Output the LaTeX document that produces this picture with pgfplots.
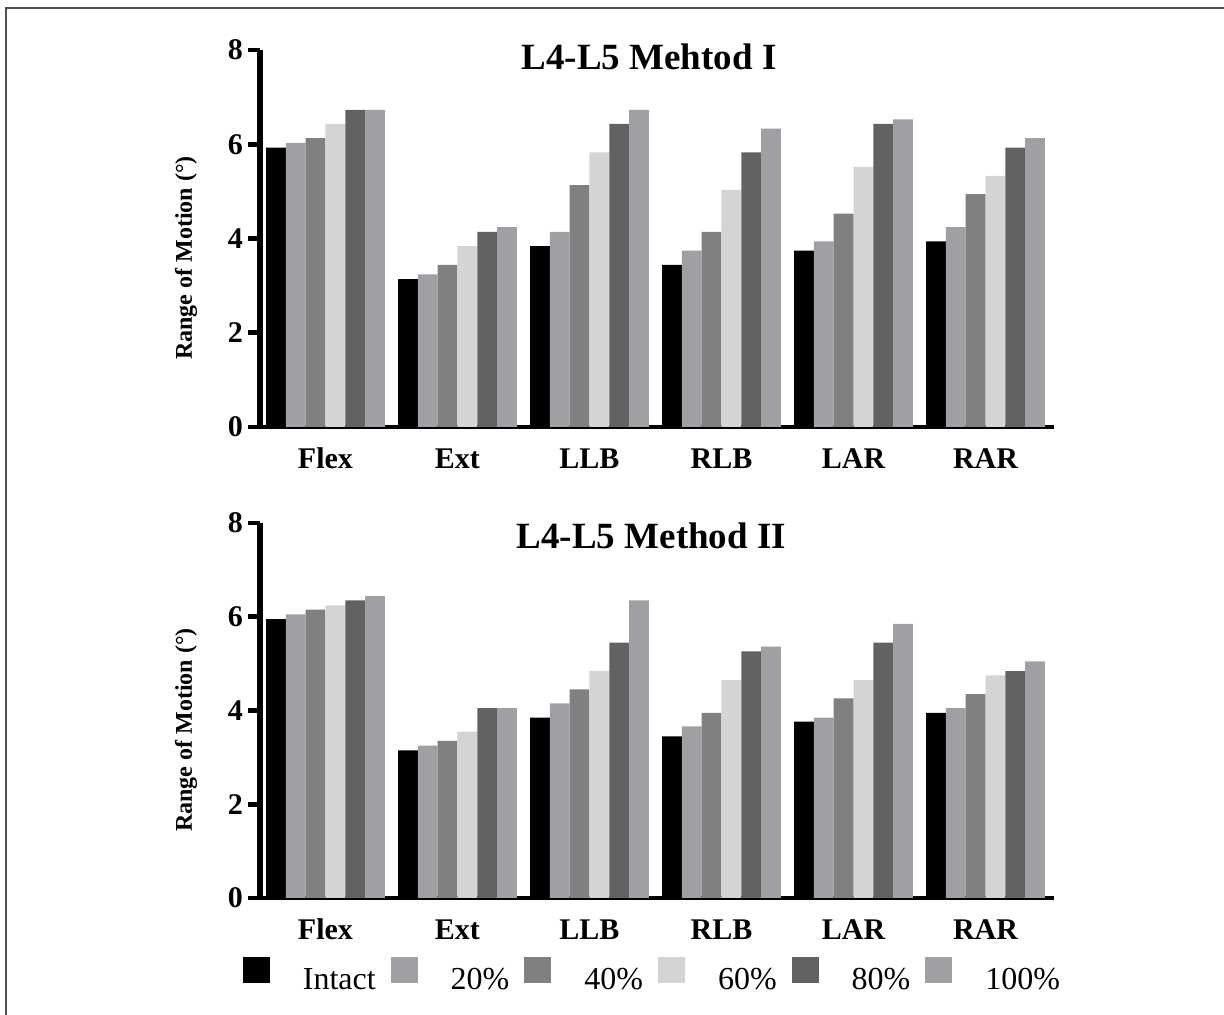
\documentclass[border=0pt]{standalone}
\usepackage{pgfplots}
\usepackage{pgfplotstable}
\pgfplotsset{compat=1.18}
\usepackage{fontspec}
\setmainfont{Liberation Serif}

\definecolor{cA}{RGB}{0,0,0}
\definecolor{cB}{RGB}{160,159,164}
\definecolor{cC}{RGB}{128,128,128}
\definecolor{cD}{RGB}{212,212,212}
\definecolor{cE}{RGB}{98,98,98}
\definecolor{cF}{RGB}{160,159,164}
\definecolor{frame}{RGB}{80,80,80}

\pgfplotstableread{
x a b c d e f
0 5.93 6.03 6.13 6.43 6.73 6.73
1 3.14 3.24 3.44 3.84 4.14 4.24
2 3.84 4.14 5.13 5.83 6.43 6.73
3 3.44 3.74 4.14 5.03 5.83 6.33
4 3.74 3.94 4.53 5.52 6.43 6.53
5 3.94 4.24 4.94 5.33 5.93 6.13
}\dataA

\pgfplotstableread{
x a b c d e f
0 5.95 6.05 6.15 6.24 6.35 6.44
1 3.15 3.25 3.35 3.55 4.05 4.05
2 3.85 4.15 4.45 4.84 5.45 6.35
3 3.45 3.66 3.95 4.65 5.26 5.36
4 3.76 3.85 4.26 4.65 5.45 5.85
5 3.95 4.05 4.35 4.75 4.84 5.05
}\dataB

\pgfplotsset{
  rom/.style={
    ybar=0pt,
    bar width=0.15,
    scale only axis,
    clip=false,
    width=397pt,
    xmin=-0.496, xmax=5.519,
    ymin=0, ymax=8,
    ytick={0,2,4,6,8},
    xtick={0,1,2,3,4,5},
    xticklabels={Flex,Ext,LLB,RLB,LAR,RAR},
    axis x line*=bottom,
    axis y line*=left,
    axis line style={-},
    y axis line style={line width=2.6pt,black},
    x axis line style={line width=2.3pt,black},
    xtick style={draw=none},
    ytick style={line width=2.4pt, black},
    tick align=outside,
    major tick length=6pt,
    /pgf/number format/assume math mode=true,
    yticklabel style={font=\fontsize{15}{18}\selectfont\bfseries, xshift=1pt},
    xticklabel style={font=\fontsize{15}{18}\selectfont\bfseries, anchor=base, yshift=-15pt},
    ylabel={Range of Motion (°)},
    ylabel style={font=\fontsize{12}{14}\selectfont\bfseries, at={(axis description cs:-0.093,0.448)}, anchor=center, rotate=0},
    legend image code/.code={\fill[##1] (0pt,-1pt) rectangle (13.5pt,11.8pt); \path[draw=none,fill=none] (0pt,0pt) rectangle (30pt,0.1pt);},
    every axis plot/.append style={draw=none},
  }
}

\begin{document}
\begin{tikzpicture}[x=1pt,y=1pt]
\useasboundingbox (0,0) rectangle (612,507.5);
\draw[frame, line width=1pt] (3,0) -- (3,503.5) -- (612,503.5);

\begin{axis}[rom, height=188.5pt, at={(130pt,294pt)}, anchor=south west]
\addplot[fill=cA] table[x=x,y=a]{\dataA};
\addplot[fill=cB] table[x=x,y=b]{\dataA};
\addplot[fill=cC] table[x=x,y=c]{\dataA};
\addplot[fill=cD] table[x=x,y=d]{\dataA};
\addplot[fill=cE] table[x=x,y=e]{\dataA};
\addplot[fill=cF] table[x=x,y=f]{\dataA};
\node[font=\fontsize{18.5}{22}\selectfont\bfseries, anchor=base] at (rel axis cs:0.49,0.947) {L4-L5 Mehtod I};
\end{axis}

\begin{axis}[rom, height=187.5pt, at={(130pt,58.5pt)}, anchor=south west,
  legend columns=6,
  legend style={draw=none, fill=none, at={(axis description cs:0.493,-0.205)}, anchor=center,
    font=\fontsize{16}{19}\selectfont, nodes={inner sep=0pt},
    /tikz/every even column/.append style={column sep=7.5pt}},
  legend cell align=left]
\addplot[fill=cA] table[x=x,y=a]{\dataB};
\addplot[fill=cB] table[x=x,y=b]{\dataB};
\addplot[fill=cC] table[x=x,y=c]{\dataB};
\addplot[fill=cD] table[x=x,y=d]{\dataB};
\addplot[fill=cE] table[x=x,y=e]{\dataB};
\addplot[fill=cF] table[x=x,y=f]{\dataB};
\node[font=\fontsize{18.5}{22}\selectfont\bfseries, anchor=base] at (rel axis cs:0.493,0.933) {L4-L5 Method II};
\legend{Intact,20\%,40\%,60\%,80\%,100\%}
\end{axis}
\end{tikzpicture}
\end{document}
